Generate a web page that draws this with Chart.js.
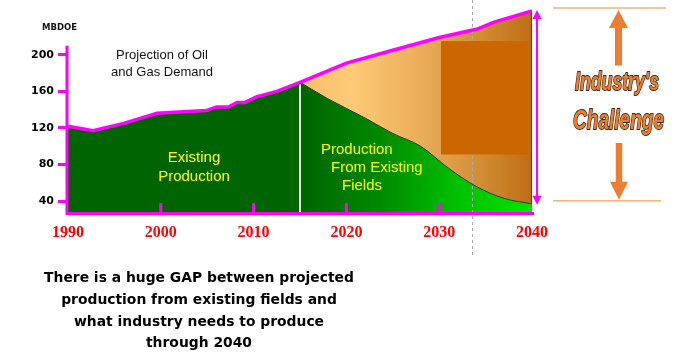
<!DOCTYPE html>
<html><head><meta charset="utf-8">
<script src="https://cdn.jsdelivr.net/npm/chart.js@4"></script>
<style>html,body{margin:0;padding:0;background:#fff}#wrap{position:relative;width:682px;height:356px}</style>
</head><body><div id="wrap"><canvas id="c"></canvas></div>
<script>
// ---- data ----
const histYears  = [1990, 1992.7, 1996, 1999.6, 2004.9, 2006, 2007.3, 2008.2, 2009.1, 2010.3, 2012.5, 2015];
const histDemand = [122, 117, 125, 136, 139, 143, 143, 148, 148, 154, 160, 170];
const projYears  = [2015, 2020, 2025, 2030, 2034, 2036, 2040];
const projDemand = [170, 191, 205, 219, 228, 236, 248];
const fieldYears = [2015, 2018, 2022, 2025, 2028, 2031, 2034, 2037, 2040];
const fieldProd  = [170, 152, 131, 114, 100, 76, 56, 43, 37];
const yTicks = [40, 80, 120, 160, 200];
const xTicks = [1990, 2000, 2010, 2020, 2030, 2040];
const innerTicks = [2000, 2010, 2020, 2030];
const titleLines = ['Projection of Oil', 'and Gas Demand'];
const existingLines = ['Existing', 'Production'];
const fieldsLines = ['Production', 'From Existing', 'Fields'];
const challengeLines = ["Industry's", 'Challenge'];
const noteLines = ['There is a huge GAP between projected', 'production from existing fields and', 'what industry needs to produce', 'through 2040'];
const unitLabel = 'MBDOE';
const splitYear = 2015;
const dashYear = 2033.5;

const pts = (xs, ys) => xs.map((x, i) => ({x: x, y: ys[i]}));
const MAG = '#FF00FF';

function hGrad(chart, stops) {
  const a = chart.chartArea; if (!a) return null;
  const x = chart.scales.x;
  const g = chart.ctx.createLinearGradient(x.getPixelForValue(splitYear), 0, x.getPixelForValue(2040), 0);
  stops.forEach(s => g.addColorStop(s[0], s[1]));
  return g;
}

function arrow(ctx, x, y1, y2, shaftW, headW, headH, color) {
  ctx.fillStyle = color;
  const dir = y2 > y1 ? 1 : -1;
  const hb = y2 - dir * headH;
  ctx.fillRect(x - shaftW / 2, Math.min(y1, hb), shaftW, Math.abs(hb - y1) + 0.5);
  ctx.beginPath(); ctx.moveTo(x, y2); ctx.lineTo(x - headW / 2, hb); ctx.lineTo(x + headW / 2, hb); ctx.closePath(); ctx.fill();
}

const deco = {
  id: 'deco',
  beforeDatasetDraw(chart, args) {
    if (args.index !== 0) return;
    const {ctx, chartArea: a, scales: {x, y}} = chart;
    ctx.save();
    const sx = x.getPixelForValue(splitYear);
    ctx.strokeStyle = '#E6E6E6'; ctx.lineWidth = 2;
    ctx.beginPath(); ctx.moveTo(sx, y.getPixelForValue(histDemand[histDemand.length - 1])); ctx.lineTo(sx, a.bottom + 3); ctx.stroke();
    const dx = Math.round(x.getPixelForValue(dashYear)) + 0.5;
    ctx.strokeStyle = '#A8A8A8'; ctx.lineWidth = 1; ctx.setLineDash([3, 3]);
    ctx.beginPath(); ctx.moveTo(dx, 0); ctx.lineTo(dx, 256); ctx.stroke();
    ctx.setLineDash([]);
    ctx.fillStyle = '#CC6600';
    const rx0 = x.getPixelForValue(2030.2), rx1 = x.getPixelForValue(2039.6);
    const ry0 = y.getPixelForValue(215), ry1 = y.getPixelForValue(91);
    ctx.fillRect(rx0, ry0, rx1 - rx0, ry1 - ry0);
    ctx.strokeStyle = '#6E4210'; ctx.lineWidth = 1.2;
    const ex = x.getPixelForValue(2040) - 0.5;
    ctx.beginPath(); ctx.moveTo(ex, y.getPixelForValue(projDemand[projDemand.length - 1])); ctx.lineTo(ex, y.getPixelForValue(fieldProd[fieldProd.length - 1])); ctx.stroke();
    ctx.restore();
  },
  afterDraw(chart) {
    const {ctx, chartArea: a, scales: {x, y}} = chart;
    ctx.save();
    ctx.strokeStyle = MAG; ctx.lineWidth = 3; ctx.lineCap = 'butt';
    ctx.beginPath(); ctx.moveTo(a.left - 1, y.getPixelForValue(210)); ctx.lineTo(a.left - 1, a.bottom + 2); ctx.stroke();
    ctx.beginPath(); ctx.moveTo(a.left - 2, a.bottom + 0.5); ctx.lineTo(a.right + 2, a.bottom + 0.5); ctx.stroke();
    innerTicks.forEach(v => {
      const px = x.getPixelForValue(v);
      ctx.beginPath(); ctx.moveTo(px, a.bottom - 10); ctx.lineTo(px, a.bottom); ctx.stroke();
    });
    const ax = a.right + 5;
    const yTop = y.getPixelForValue(projDemand[projDemand.length - 1]);
    const yBot = y.getPixelForValue(fieldProd[fieldProd.length - 1]);
    ctx.lineWidth = 2;
    ctx.beginPath(); ctx.moveTo(ax, yTop + 6); ctx.lineTo(ax, yBot - 6); ctx.stroke();
    ctx.fillStyle = MAG;
    ctx.beginPath(); ctx.moveTo(ax, yTop - 1); ctx.lineTo(ax - 4.5, yTop + 8); ctx.lineTo(ax + 4.5, yTop + 8); ctx.closePath(); ctx.fill();
    ctx.beginPath(); ctx.moveTo(ax, yBot + 1); ctx.lineTo(ax - 4.5, yBot - 8); ctx.lineTo(ax + 4.5, yBot - 8); ctx.closePath(); ctx.fill();

    ctx.strokeStyle = '#F4B183'; ctx.lineWidth = 1.5;
    ctx.beginPath(); ctx.moveTo(553, yTop - 3); ctx.lineTo(666, yTop - 3); ctx.stroke();
    ctx.beginPath(); ctx.moveTo(553, yBot - 3); ctx.lineTo(661, yBot - 3); ctx.stroke();
    arrow(ctx, 618.5, 65, yTop - 1, 7, 19, 18, '#ED7D31');
    arrow(ctx, 619, 143, yBot - 4, 6.5, 18, 18, '#ED7D31');

    const drawNarrow = (txt, cx, base, size, w) => {
      ctx.font = 'italic bold ' + size + 'px "Liberation Sans", Arial, sans-serif';
      const m = ctx.measureText(txt).width;
      ctx.save(); ctx.translate(cx, base); ctx.scale(w / m, 1);
      ctx.textAlign = 'center'; ctx.textBaseline = 'alphabetic';
      ctx.lineJoin = 'round';
      ctx.strokeStyle = '#3B2A1C'; ctx.lineWidth = 1.8; ctx.strokeText(txt, 0, 0);
      ctx.fillStyle = '#ED7D31'; ctx.fillText(txt, 0, 0);
      ctx.restore();
    };
    drawNarrow(challengeLines[0], 617, 90, 26, 84);
    drawNarrow(challengeLines[1], 618.5, 128.5, 28, 91);

    ctx.fillStyle = '#151515'; ctx.textAlign = 'center'; ctx.textBaseline = 'middle';
    ctx.font = '13px "Liberation Sans", Arial, sans-serif';
    ctx.fillText(titleLines[0], 162, 55);
    ctx.fillText(titleLines[1], 162, 72);
    ctx.textAlign = 'left'; ctx.font = 'bold 8.5px "DejaVu Sans", sans-serif'; ctx.fillStyle = '#111';
    ctx.fillText(unitLabel, 42, 28);
    ctx.fillStyle = '#FFFF00'; ctx.font = '15px "Liberation Sans", Arial, sans-serif'; ctx.textAlign = 'center';
    ctx.fillText(existingLines[0], 194, 158);
    ctx.fillText(existingLines[1], 194, 177);
    ctx.textAlign = 'left';
    ctx.fillText(fieldsLines[0], 321, 150);
    ctx.fillText(fieldsLines[1], 331, 168);
    ctx.fillText(fieldsLines[2], 342, 186);
    ctx.fillStyle = '#000'; ctx.textAlign = 'center';
    ctx.font = 'bold 13px "DejaVu Sans", sans-serif';
    const w0 = ctx.measureText(noteLines[0]).width;
    const fs = 13 * 310 / w0;
    ctx.font = 'bold ' + fs.toFixed(2) + 'px "DejaVu Sans", sans-serif';
    [278, 300, 322, 343].forEach((yy, i) => ctx.fillText(noteLines[i], 199, yy));
    ctx.restore();
  }
};

new Chart(document.getElementById('c'), {
  type: 'line',
  data: {
    datasets: [
      {label: 'Demand', data: pts(histYears.concat(projYears.slice(1)), histDemand.concat(projDemand.slice(1))),
       borderColor: MAG, borderWidth: 3.5, fill: false, pointRadius: 0, order: 1, tension: 0},
      {label: 'Existing production', data: pts(histYears, histDemand), backgroundColor: '#006400',
       borderColor: 'rgba(0,0,0,0)', borderWidth: 0, fill: 'start', pointRadius: 0, order: 2},
      {label: 'Production from existing fields', data: pts(fieldYears, fieldProd),
       backgroundColor: c => hGrad(c.chart, [[0, '#006400'], [0.35, '#008A00'], [0.7, '#00C400'], [1, '#00E400']]),
       borderColor: '#2E3B1E', borderWidth: 1, fill: 'start', pointRadius: 0, order: 3, cubicInterpolationMode: 'monotone'},
      {label: 'Gap', data: pts(projYears, projDemand),
       backgroundColor: c => hGrad(c.chart, [[0, '#F6BE6A'], [0.22, '#FFCB76'], [0.55, '#E8AA56'], [0.8, '#D08A30'], [1, '#BE6E14']]),
       borderColor: 'rgba(0,0,0,0)', borderWidth: 0, fill: 'start', pointRadius: 0, order: 4}
    ]
  },
  options: {
    responsive: true, maintainAspectRatio: false, animation: false,
    layout: {padding: {left: 0, right: 150, top: 0, bottom: 0}, autoPadding: false},
    plugins: {legend: {display: false}, tooltip: {enabled: false}},
    scales: {
      x: {type: 'linear', min: 1990, max: 2040,
          afterBuildTicks: s => { s.ticks = xTicks.map(v => ({value: v})); },
          afterFit: s => { s.height = 143; s.paddingLeft = 0; s.paddingRight = 0; },
          grid: {display: false, drawTicks: false}, border: {display: false},
          ticks: {autoSkip: false, maxRotation: 0, padding: 10, color: '#FF0000',
                  font: {family: '"Liberation Serif", "Times New Roman", serif', size: 16, weight: 'bold'},
                  callback: v => String(v)}},
      y: {type: 'linear', min: 27, max: 260,
          afterBuildTicks: s => { s.ticks = yTicks.map(v => ({value: v})); },
          afterFit: s => { s.width = 68; s.paddingTop = 0; s.paddingBottom = 0; },
          grid: {display: true, drawOnChartArea: false, drawTicks: true, tickLength: 10, color: MAG, lineWidth: 3},
          border: {display: false},
          ticks: {autoSkip: false, padding: 4, color: '#000',
                  font: {family: '"DejaVu Sans", sans-serif', size: 11, weight: 'bold'}}}
    }
  },
  plugins: [deco]
});
</script>
</body></html>
